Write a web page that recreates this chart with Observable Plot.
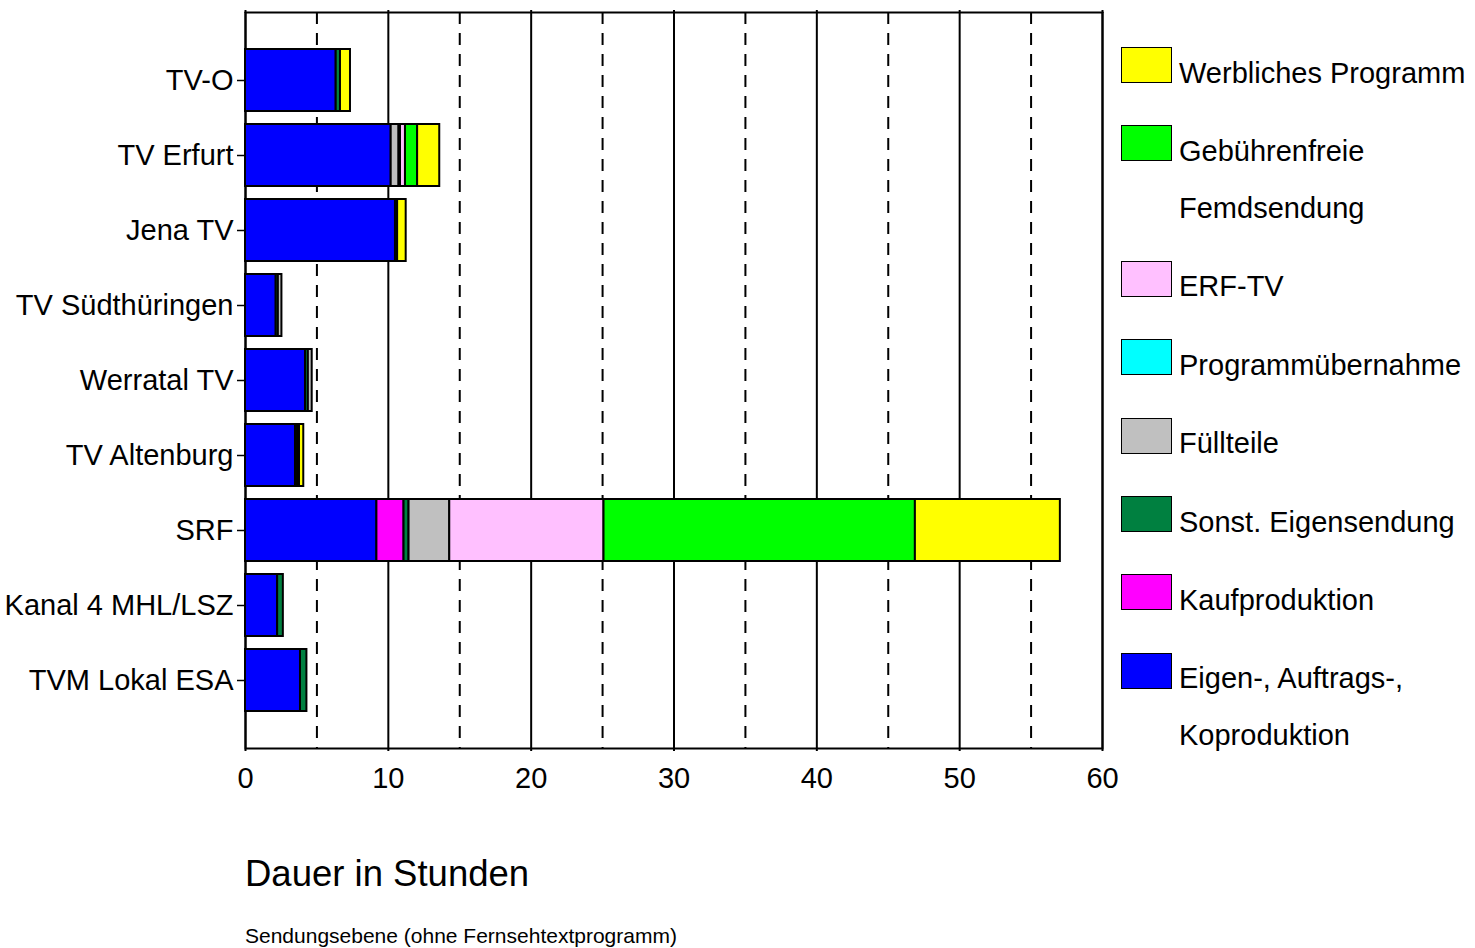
<!DOCTYPE html>
<html><head><meta charset="utf-8">
<script src="https://cdn.jsdelivr.net/npm/d3@7"></script>
<script src="https://cdn.jsdelivr.net/npm/@observablehq/plot@0.6"></script>
<style>
body{margin:0;background:#fff;font-family:"Liberation Sans",Arial,sans-serif;}
#wrap{position:relative;width:1475px;height:948px;overflow:hidden;}
#chart{position:absolute;left:0;top:0;}
.abs{position:absolute;white-space:nowrap;color:#000;line-height:1;}
.sw{position:absolute;width:49px;height:34px;border:1.5px solid #000;}
.lt{position:absolute;font-size:29px;line-height:57px;white-space:nowrap;}
</style></head><body>
<div id="wrap">
<div id="chart"></div>
<div id="legend"></div>
<div class="abs" style="left:245px;top:856px;font-size:36.5px;">Dauer in Stunden</div>
<div class="abs" style="left:245px;top:925px;font-size:21px;">Sendungsebene (ohne Fernsehtextprogramm)</div>
</div>
<script>
const stations = ["TV-O","TV Erfurt","Jena TV","TV Südthüringen","Werratal TV","TV Altenburg","SRF","Kanal 4 MHL/LSZ","TVM Lokal ESA"];
const categories = ["Eigen-, Auftrags-, Koproduktion","Kaufproduktion","Sonst. Eigensendung","Füllteile","Programmübernahme","ERF-TV","Gebührenfreie Femdsendung","Werbliches Programm"];
const legendLabels = [["Eigen-, Auftrags-,","Koproduktion"],["Kaufproduktion"],["Sonst. Eigensendung"],["Füllteile"],["Programmübernahme"],["ERF-TV"],["Gebührenfreie","Femdsendung"],["Werbliches Programm"]];
const colors = ["#0000ff","#ff00ff","#008040","#c0c0c0","#00ffff","#ffc0ff","#00ff00","#ffff00"];
const eigen   = [6.35,10.2,10.5,2.15,4.2,3.5,9.2,2.25,3.85];
const kauf    = [0,0,0,0,0,0,1.9,0,0];
const sonst   = [0.3,0,0.15,0.15,0.2,0.15,0.35,0.4,0.45];
const fuell   = [0,0.55,0,0.25,0.27,0.13,2.85,0,0];
const uebern  = [0,0.1,0,0,0,0,0,0,0];
const erf     = [0,0.35,0,0,0,0,10.8,0,0];
const gebuehr = [0,0.85,0,0,0,0,21.8,0,0];
const werb    = [0.7,1.55,0.6,0,0,0.3,10.15,0,0];
const series = [eigen,kauf,sonst,fuell,uebern,erf,gebuehr,werb];
const xMajor = [0,10,20,30,40,50,60];
const xMinor = [5,15,25,35,45,55];

const rows = [];
categories.forEach((c,ci)=>{
  stations.forEach((s,si)=>{
    const v = series[ci][si];
    if (v > 0) rows.push({station:s, cat:c, value:v});
  });
});

const plot = Plot.plot({
  width: 1475, height: 800,
  marginLeft: 245, marginRight: 373, marginTop: 12, marginBottom: 52,
  style: {fontFamily: '"Liberation Sans", Arial, sans-serif', fontSize: "29px", color:"#000", background:"#fff"},
  x: {domain: [0,60], label: null},
  y: {domain: stations, range: [41.5, 717.5], paddingInner: 0.175, paddingOuter: 0.0875, label: null},
  color: {domain: categories, range: colors},
  marks: [
    Plot.ruleX(xMinor, {stroke:"#000", strokeWidth:2, strokeDasharray:"12,9"}),
    Plot.ruleX(xMajor, {stroke:"#000", strokeWidth:2}),
    Plot.frame({stroke:"#000", strokeWidth:2}),
    Plot.barX(rows, Plot.stackX({y:"station", x:"value", fill:"cat", stroke:"#000", strokeWidth:2, order: categories})),
    Plot.axisY({tickSize:8, tickPadding:4, fontSize:29, stroke:"#000", strokeWidth:1.5}),
    Plot.axisX({ticks: xMajor, tickSize:3, tickPadding:16, fontSize:29, tickFormat:d=>String(d), strokeWidth:2}),
    Plot.axisX({anchor:"top", ticks: xMajor, tickSize:3, tickFormat:()=>"", strokeWidth:2})
  ]
});
document.getElementById("chart").appendChild(plot);

// legend (top to bottom: reverse of stack order)
const leg = document.getElementById("legend");
let itemTop = 47;
for (let i = categories.length - 1; i >= 0; i--) {
  const sw = document.createElement("div");
  sw.className = "sw";
  sw.style.left = "1121px"; sw.style.top = itemTop + "px";
  sw.style.background = colors[i];
  leg.appendChild(sw);
  const t = document.createElement("div");
  t.className = "lt";
  t.style.left = "1179px"; t.style.top = (itemTop - 2.5) + "px";
  t.innerHTML = legendLabels[i].join("<br>");
  leg.appendChild(t);
  itemTop += 78.4 + 57 * (legendLabels[i].length - 1);
}
</script>
</body></html>
